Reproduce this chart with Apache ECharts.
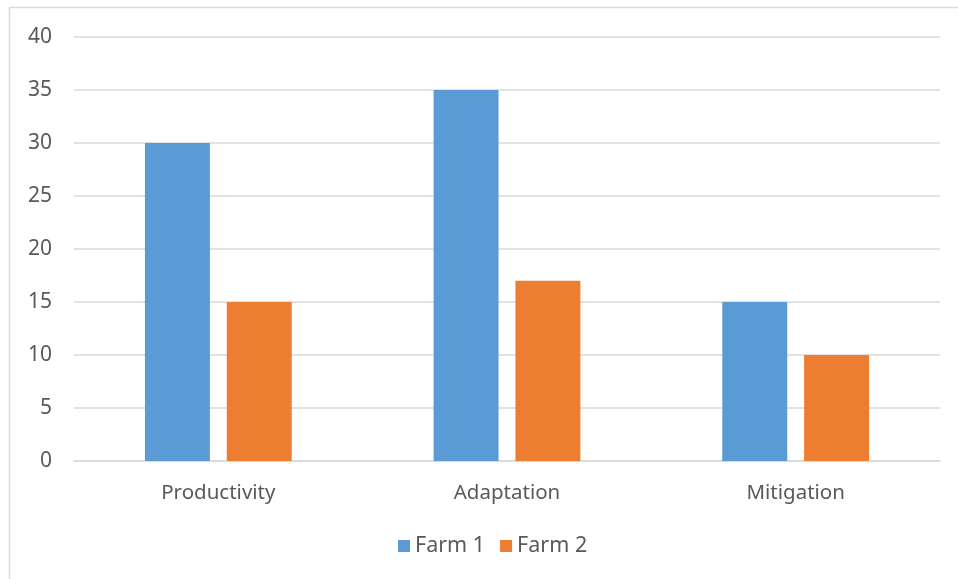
<!DOCTYPE html>
<html><head><meta charset="utf-8">
<script src="https://cdn.jsdelivr.net/npm/echarts@6/dist/echarts.min.js"></script>
<style>html,body{margin:0;padding:0;background:#fff}#c{width:958px;height:579px}</style>
</head><body><div id="c"></div>
<script>
const categories = ['Productivity', 'Adaptation', 'Mitigation'];
const farm1 = [30, 35, 15];
const farm2 = [15, 17, 10];
const seriesNames = ['Farm 1', 'Farm 2'];
const FONT = '"Noto Sans", sans-serif';
const chart = echarts.init(document.getElementById('c'), null, {renderer: 'canvas'});
chart.setOption({
  animation: false,
  backgroundColor: '#fff',
  graphic: [{type: 'rect', shape: {x: 9.5, y: 7.5, width: 1000, height: 1000}, style: {fill: 'none', stroke: '#D9D9D9', lineWidth: 1.5}, silent: true}],
  grid: {left: 74, right: 18, top: 37, bottom: 118, containLabel: false},
  legend: {
    data: seriesNames, bottom: 17, left: 393, itemWidth: 12, itemHeight: 12, itemGap: 15,
    icon: 'rect', textStyle: {color: '#595959', fontSize: 21.5, fontFamily: FONT}
  },
  xAxis: {
    type: 'category', data: categories,
    axisLine: {lineStyle: {color: '#D9D9D9', width: 1.5}},
    axisTick: {show: false},
    axisLabel: {color: '#595959', fontSize: 20.5, fontFamily: FONT, margin: 22}
  },
  yAxis: {
    type: 'value', min: 0, max: 40, interval: 5,
    axisLine: {show: false}, axisTick: {show: false},
    splitLine: {lineStyle: {color: '#D9D9D9', width: 1.5}},
    axisLabel: {color: '#595959', fontSize: 21, fontFamily: FONT, margin: 22}
  },
  series: [
    {name: seriesNames[0], type: 'bar', data: farm1, barWidth: '22.5%', barGap: '26%', itemStyle: {color: '#5B9BD5'}},
    {name: seriesNames[1], type: 'bar', data: farm2, barWidth: '22.5%', barGap: '26%', itemStyle: {color: '#ED7D31'}}
  ]
});
</script></body></html>
